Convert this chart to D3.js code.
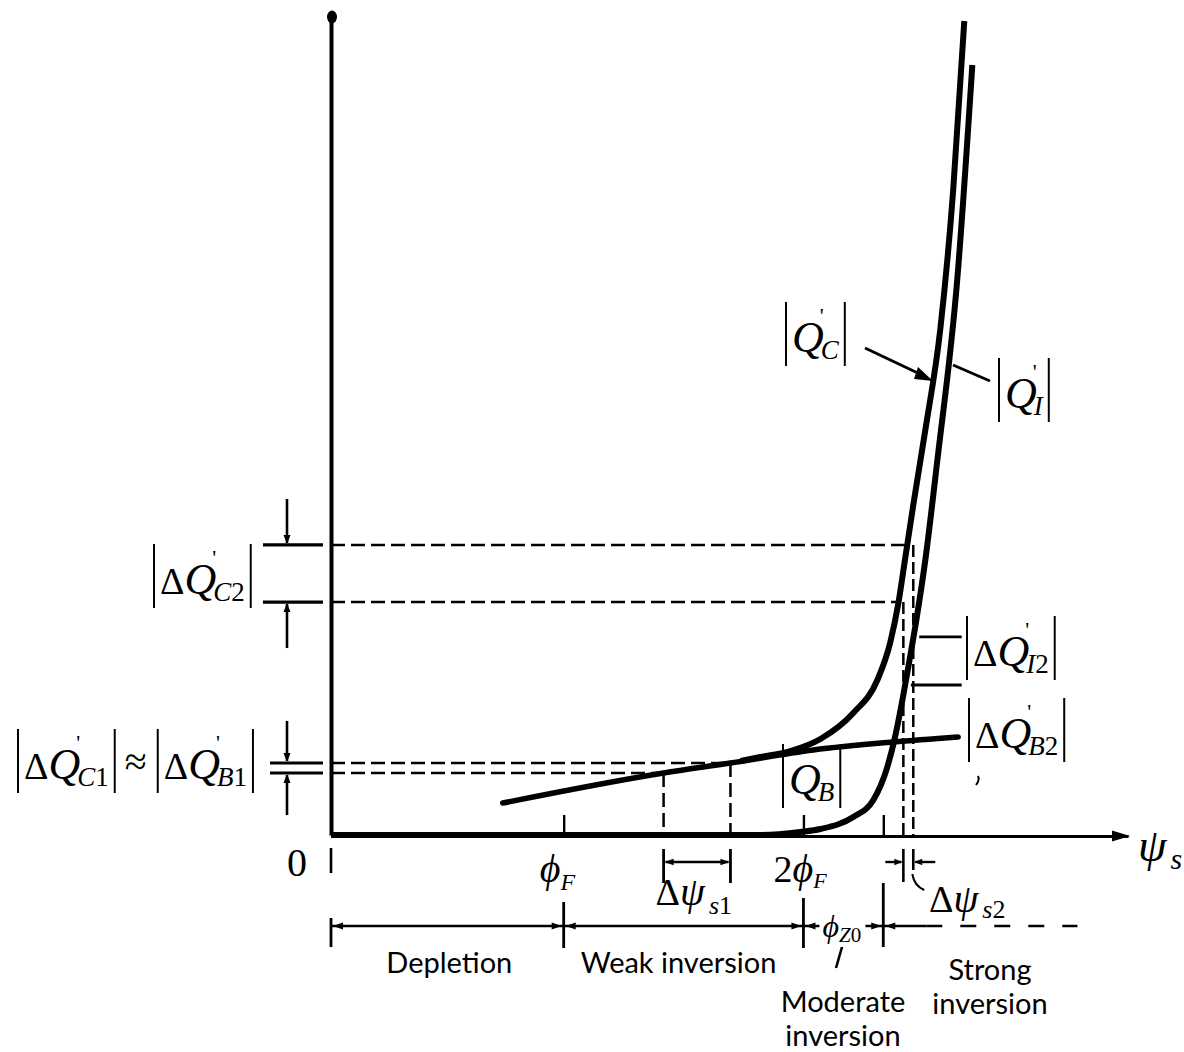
<!DOCTYPE html>
<html><head><meta charset="utf-8">
<script src="https://cdn.jsdelivr.net/npm/d3@7"></script>
<style>
body{margin:0;background:#fff;}
svg{display:block;}
</style></head>
<body><div id="chart"></div>
<script>
// surface potential in units of phi_F, charge in arbitrary units (0..100)
const psiMax=3.374, qMax=100;
const qB=[[0.727,3.9],[1.408,7.56],[1.691,8.78],[2.042,10.37],[2.381,11.34],[2.655,11.95]];
const qC=[[1.734,9.02],[1.818,9.51],[1.945,10.24],[2.072,11.71],[2.211,14.88],[2.313,18.9],[2.368,23.54],[2.402,28.29],[2.431,33.78],[2.465,40.24],[2.516,49.39],[2.579,61.59],[2.634,78.66],[2.681,99.27]];
const qI=[[0,0],[1.818,0],[1.987,0.37],[2.072,0.73],[2.211,2.2],[2.296,4.27],[2.355,8.29],[2.385,11.59],[2.419,16.46],[2.444,20.49],[2.478,26.22],[2.516,33.54],[2.567,45.73],[2.651,67.68],[2.715,93.9]];
const axisTicks=[0.985,2.0,2.338];
const regionEdges=[0,0.985,2.0,2.338];
const regionEnd=2.52, regionDashEnd=3.16;
const dPsi1=[1.408,1.691], dQB1=[7.56,8.78];
const dPsi2=[2.423,2.465], dQC2=[28.41,35.37], dQC2end=[2.402,2.44];
const dQI2=[18.29,24.15], dQI2start=[2.455,2.49], dQI2end=2.67;
const regionNames=['Depletion','Weak inversion'];

const W=1184,H=1052,ink='#000';
const SERIF='"Liberation Serif","Times New Roman",serif';
const SANS='Lato,"Open Sans",sans-serif';
const svg=d3.select('#chart').append('svg').attr('width',W).attr('height',H);
const x=d3.scaleLinear().domain([0,psiMax]).range([331,1128]);
const y=d3.scaleLinear().domain([0,qMax]).range([835,15]);
const curve=d3.line().x(d=>x(d[0])).y(d=>y(d[1])).curve(d3.curveMonotoneX);

function ln(g,x1,y1,x2,y2,w=2.5,dash=null){
  return g.append('line').attr('x1',x1).attr('y1',y1).attr('x2',x2).attr('y2',y2)
    .attr('stroke',ink).attr('stroke-width',w).attr('stroke-dasharray',dash);
}
function head(g,px,py,dir,len=10,hw=3.8){ // dir: 'l','r','u','d'
  const p={r:[[px,py],[px-len,py-hw],[px-len,py+hw]],l:[[px,py],[px+len,py-hw],[px+len,py+hw]],
           d:[[px,py],[px-hw,py-len],[px+hw,py-len]],u:[[px,py],[px-hw,py+len],[px+hw,py+len]]}[dir];
  g.append('path').attr('d','M'+p.join('L')+'Z').attr('fill',ink);
}
function seq(g,x0,base,parts){
  let cx=x0;
  parts.forEach(p=>{
    const t=g.append('text').attr('x',cx+(p.dx||0)).attr('y',base+(p.dy||0))
      .attr('font-family',SERIF).attr('font-size',p.s).attr('font-style',p.i?'italic':'normal').attr('fill',ink).text(p.t);
    if(p.adv!==false) cx+=(p.dx||0)+t.node().getComputedTextLength();
  });
  return cx;
}
function absLabel(g,x0,base,parts){
  const end=seq(g,x0+6,base,parts)+6;
  [x0,end].forEach(bx=>ln(g,bx,base-50,bx,base+14,2));
  return end;
}
const qParts=(delta,sub,num,prime=true)=>{
  const a=[];
  if(delta) a.push({t:'Δ',s:38});
  a.push({t:'Q',s:44,i:1});
  if(prime) a.push({t:"'",s:22,dx:-4,dy:-29,adv:false});
  a.push({t:sub,s:27,i:1,dx:-3,dy:7});
  if(num) a.push({t:num,s:27,dy:7});
  return a;
};

// axes
const gx=svg.append('g').attr('transform',`translate(0,${y(0)+1})`)
  .call(d3.axisBottom(x).tickValues(axisTicks).tickSizeInner(-21).tickSizeOuter(0).tickFormat(''));
gx.select('.domain').attr('stroke',ink).attr('stroke-width',3.2);
gx.selectAll('.tick line').attr('stroke',ink).attr('stroke-width',2.4);
head(svg,x(psiMax)+2,y(0)+1,'r',18,5.5);
const gy=svg.append('g').attr('transform',`translate(${x(0)},0)`)
  .call(d3.axisLeft(y).tickValues([]).tickSizeOuter(0));
gy.select('.domain').attr('stroke',ink).attr('stroke-width',4);
svg.append('ellipse').attr('cx',x(0)+1).attr('cy',y(qMax)+2).attr('rx',5).attr('ry',6.5).attr('fill',ink);

// dashed construction lines
const dash='14,6';
dQB1.forEach((q,i)=>{
  ln(svg,x(0),y(q),x(dPsi1[i]),y(q),2.5,dash);
  ln(svg,x(dPsi1[i]),y(q),x(dPsi1[i]),y(0),2.5,dash);
});
dQC2.forEach((q,i)=>{
  ln(svg,x(0),y(q),x(dQC2end[i]),y(q),2.5,dash);
  ln(svg,x(dPsi2[i]),y(q),x(dPsi2[i]),y(0),2.5,'12,5');
});
dQI2.forEach((q,i)=>ln(svg,x(dQI2start[i]),y(q),x(dQI2end),y(q),2.8));

// curves
svg.append('path').datum(qB).attr('d',curve).attr('fill','none').attr('stroke',ink).attr('stroke-width',5.5).attr('stroke-linecap','round');
svg.append('path').datum(qC).attr('d',curve).attr('fill','none').attr('stroke',ink).attr('stroke-width',6);
svg.append('path').datum(qI).attr('d',curve).attr('fill','none').attr('stroke',ink).attr('stroke-width',6);

// left side brackets for ΔQ
[[dQC2,263],[dQB1,270]].forEach(([lv,x1])=>{
  const hi=y(d3.max(lv)), lo=y(d3.min(lv));
  ln(svg,x1,hi,x(0)-8,hi,3.2); ln(svg,x1,lo,x(0)-8,lo,3.2);
  const ax=287, arm=lv===dQC2?46:42;
  ln(svg,ax,hi-arm,ax,hi-2,2.6); head(svg,ax,hi-1,'d',9,3.5);
  ln(svg,ax,lo+2,ax,lo+arm,2.6); head(svg,ax,lo+1,'u',9,3.5);
});

// leaders to curves
ln(svg,865,348,922,375,3);
svg.append('path').attr('d','M933,381 L918,367 L914,379 Z').attr('fill',ink);
ln(svg,990,381,953,365,2.8);

// math labels
absLabel(svg,786,352,qParts(false,'C'));
absLabel(svg,999,408,qParts(false,'I'));
absLabel(svg,154,594,qParts(true,'C','2'));
absLabel(svg,967,666,qParts(true,'I','2'));
absLabel(svg,969,748,qParts(true,'B','2'));
absLabel(svg,783,794,qParts(false,'B',null,false));
const e1=absLabel(svg,18,779,qParts(true,'C','1'));
svg.append('text').attr('x',e1+21).attr('y',775).attr('text-anchor','middle').attr('font-family',SERIF).attr('font-size',40).text('≈');
absLabel(svg,e1+43,779,qParts(true,'B','1'));
svg.append('path').attr('d','M978,776 q2,4 -2,9').attr('fill','none').attr('stroke',ink).attr('stroke-width',2);

// below the axis
svg.append('text').attr('x',297).attr('y',876).attr('text-anchor','middle').attr('font-family',SERIF).attr('font-size',40).text('0');
ln(svg,x(0),848,x(0),873,2.6);
seq(svg,x(axisTicks[0])-24,882,[{t:'ϕ',s:40,i:1},{t:'F',s:24,i:1,dy:8}]);
seq(svg,x(axisTicks[1])-30,882,[{t:'2',s:38},{t:'ϕ',s:40,i:1},{t:'F',s:22,i:1,dy:6}]);
seq(svg,x(dPsi1[0])-8,905,[{t:'Δ',s:38},{t:'ψ',s:40,i:1},{t:'s',s:26,i:1,dy:9,dx:4},{t:'1',s:26,dy:9}]);
seq(svg,929,912,[{t:'Δ',s:38},{t:'ψ',s:40,i:1},{t:'s',s:26,i:1,dy:6,dx:4},{t:'2',s:26,dy:6}]);
seq(svg,x(psiMax)+10,861,[{t:'ψ',s:46,i:1},{t:'s',s:30,i:1,dy:8,dx:4}]);

// Δψ brackets
dPsi1.forEach(p=>ln(svg,x(p),849,x(p),883,2.8));
ln(svg,x(dPsi1[0])+2,862,x(dPsi1[1])-2,862,2.6);
head(svg,x(dPsi1[0])+1,862,'l',9,3.2); head(svg,x(dPsi1[1])-1,862,'r',9,3.2);
ln(svg,x(dPsi2[0]),849,x(dPsi2[0]),882,2.6); ln(svg,x(dPsi2[1]),849,x(dPsi2[1]),870,2.6);
ln(svg,x(dPsi2[0])-18,862,x(dPsi2[0])-2,862,2.4); head(svg,x(dPsi2[0])-1,862,'r',8,3.2);
ln(svg,x(dPsi2[1])+22,862,x(dPsi2[1])+2,862,2.4); head(svg,x(dPsi2[1])+1,862,'l',8,3.2);
svg.append('path').attr('d',`M${x(dPsi2[1])-1},874 q2,12 12,16`).attr('fill','none').attr('stroke',ink).attr('stroke-width',2);

// region bar
const ry=926;
ln(svg,x(0),ry,x(regionEnd),ry,2.6);
ln(svg,x(regionEnd),ry,x(regionDashEnd),ry,2.6,'16,18');
ln(svg,x(regionEdges[0]),918,x(regionEdges[0]),947,2.8);
[[902,948],[898,948],[883,947]].forEach(([a,b],i)=>ln(svg,x(regionEdges[i+1]),a,x(regionEdges[i+1]),b,2.8));
regionEdges.forEach((e,i)=>{
  head(svg,x(e)+2,ry,'l',10,3.6);
  if(i>0) head(svg,x(e)-2,ry,'r',10,3.6);
});
svg.append('rect').attr('x',x(regionEdges[2])+16).attr('y',910).attr('width',46).attr('height',32).attr('fill','#fff');
seq(svg,x(regionEdges[2])+19,937,[{t:'ϕ',s:32,i:1},{t:'Z',s:21,i:1,dy:5},{t:'0',s:21,dy:5}]);
ln(svg,842,947,836,968,2.6);

// region names
const sans=(t,cx,by)=>svg.append('text').attr('x',cx).attr('y',by).attr('text-anchor','middle')
  .attr('font-family',SANS).attr('font-size',29).attr('fill',ink).text(t);
sans(regionNames[0],(x(regionEdges[0])+x(regionEdges[1]))/2+2,973);
sans(regionNames[1],(x(regionEdges[1])+x(regionEdges[2]))/2-5,973);
sans('Moderate',843,1012); sans('inversion',843,1046);
sans('Strong',990,980); sans('inversion',990,1014);
</script></body></html>
